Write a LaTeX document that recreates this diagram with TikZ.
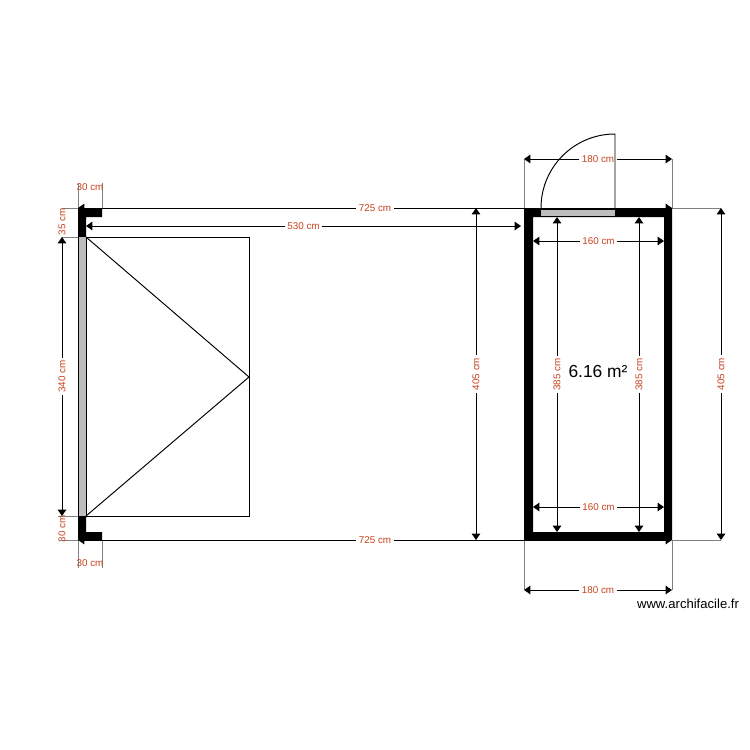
\documentclass[tikz,border=0pt]{standalone}
\usepackage{fontspec}
\setmainfont{Liberation Sans}
\usetikzlibrary{arrows.meta}
\definecolor{dimred}{HTML}{C8431E}
\definecolor{glass}{HTML}{BDBDBD}
\tikzset{
  dimline/.style={black, line width=0.55pt, {Triangle[length=3.6pt,width=4.8pt]}-{Triangle[length=3.6pt,width=4.8pt]}},
  extline/.style={gray, line width=0.5pt},
  planline/.style={black, line width=0.55pt},
  wall/.style={fill=black, draw=none},
  pane/.style={fill=glass, draw=none},
  dimlabel/.style={text=dimred, font=\fontsize{5.6}{6}\selectfont, fill=white, inner sep=1.5pt},
  barelabel/.style={text=dimred, font=\fontsize{5.6}{6}\selectfont, inner sep=0pt}
}
\begin{document}
\begin{tikzpicture}[x=0.02cm,y=-0.02cm]
\useasboundingbox (0,0) rectangle (750,750);
% extension lines
\draw [extline] (78,183) -- (78,208);
\draw [extline] (102,183) -- (102,208);
\draw [extline] (62,208) -- (78,208);
\draw [extline] (62,237) -- (78,237);
\draw [extline] (58,516) -- (78,516);
\draw [extline] (60,540) -- (78,540);
\draw [extline] (78,540) -- (78,568);
\draw [extline] (102,540) -- (102,568);
\draw [extline] (524,159) -- (524,208);
\draw [extline] (672,159) -- (672,208);
\draw [extline] (524,540) -- (524,590);
\draw [extline] (672,540) -- (672,590);
\draw [extline] (672,208) -- (721,208);
\draw [extline] (672,540) -- (721,540);
% dimensions
\draw [dimline] (78,208) -- node [dimlabel] (toplen) {725 cm} (672,208);
\draw [dimline] (78,540) -- node [dimlabel] (botlen) {725 cm} (672,540);
\draw [dimline] (86,226) -- node [dimlabel] (gaplen) {530 cm} (521,226);
\draw [dimline] (62,237) -- node [dimlabel, rotate=90] (doorlen) {340 cm} (62,516);
\draw [dimline] (476,208) -- node [dimlabel, rotate=90] (midhgt) {405 cm} (476,540);
\draw [dimline] (721,208) -- node [dimlabel, rotate=90] (outhgt) {405 cm} (721,540);
\draw [dimline] (557,217) -- node [dimlabel, rotate=90] (inhgta) {385 cm} (557,532);
\draw [dimline] (639,217) -- node [dimlabel, rotate=90] (inhgtb) {385 cm} (639,532);
\draw [dimline] (533,241) -- node [dimlabel] (inwida) {160 cm} (664,241);
\draw [dimline] (533,507) -- node [dimlabel] (inwidb) {160 cm} (664,507);
\draw [dimline] (524,159) -- node [dimlabel] (outwida) {180 cm} (672,159);
\draw [dimline] (524,590) -- node [dimlabel] (outwidb) {180 cm} (672,590);
\node [barelabel] (piertop) at (90,187) {30 cm};
\node [barelabel] (pierbot) at (90,563) {30 cm};
\node [barelabel, rotate=90] (pierhgta) at (62,222) {35 cm};
\node [barelabel, rotate=90] (pierhgtb) at (62,529) {30 cm};
% left wall
\fill [wall] (78,208) -- (102,208) -- (102,217) -- (86,217) -- (86,237) -- (78,237) -- cycle;
\fill [wall] (78,516) -- (86,516) -- (86,532) -- (102,532) -- (102,540) -- (78,540) -- cycle;
\fill [pane] (78,237) rectangle (86,516);
\draw [planline] (78,237) -- (78,516);
\draw [planline] (86,237) rectangle (249,516);
\draw [planline] (86,237) -- (249,377) -- (86,516);
% room
\fill [wall, even odd rule] (524,208) rectangle (672,540) (533,217) rectangle (664,532);
\fill [pane] (541,210) rectangle (615,216);
\draw [planline] (541,208) .. controls (541,167.1) and (574.1,134) .. (615,134) -- (615,208);
\node [font=\fontsize{9.9}{12}\selectfont, inner sep=0pt] (area) at (598,372) {6.16 m²};
\node [font=\fontsize{7.45}{9}\selectfont, inner sep=0pt] (site) at (688,604) {www.archifacile.fr};
\end{tikzpicture}
\end{document}
